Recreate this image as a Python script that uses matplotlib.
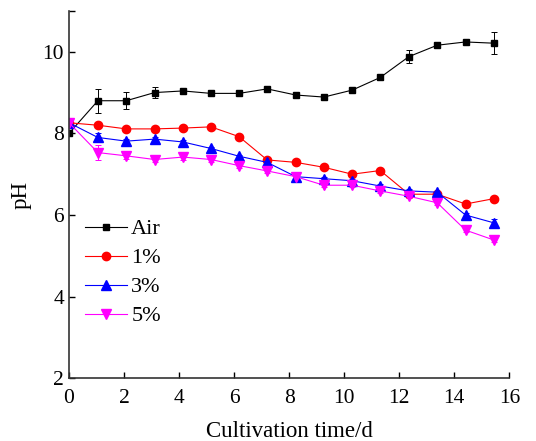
import numpy as np
import matplotlib.pyplot as plt

plt.rcParams['font.family'] = ['Liberation Serif', 'DejaVu Serif']

# days as they sit on the plot
days = [0, 1.05, 2.08, 3.11, 4.14, 5.16, 6.18, 7.2, 8.24, 9.26, 10.29, 11.31, 12.35, 13.38, 14.41, 15.43]

ph_air = [8.0, 8.80, 8.80, 9.00, 9.04, 8.98, 8.98, 9.09, 8.94, 8.89, 9.06, 9.37, 9.88, 10.16, 10.24, 10.21]
err_air = [0.05, 0.29, 0.21, 0.13, 0.05, 0.04, 0.04, 0.05, 0.04, 0.04, 0.04, 0.05, 0.16, 0.05, 0.03, 0.27]

ph_1 = [8.26, 8.20, 8.11, 8.11, 8.13, 8.16, 7.92, 7.35, 7.29, 7.17, 7.00, 7.09, 6.51, 6.51, 6.27, 6.40]
err_1 = [0.03] * 16

ph_3 = [8.26, 7.90, 7.81, 7.86, 7.79, 7.63, 7.44, 7.29, 6.94, 6.89, 6.84, 6.71, 6.59, 6.56, 6.00, 5.81]
err_3 = [0.05, 0.10, 0.05, 0.06, 0.05, 0.04, 0.04, 0.05, 0.08, 0.04, 0.04, 0.04, 0.04, 0.04, 0.06, 0.10]

ph_5 = [8.26, 7.53, 7.45, 7.36, 7.42, 7.36, 7.21, 7.08, 6.94, 6.73, 6.73, 6.59, 6.46, 6.30, 5.63, 5.39]
err_5 = [0.05, 0.19, 0.08, 0.05, 0.08, 0.05, 0.05, 0.05, 0.08, 0.05, 0.05, 0.05, 0.05, 0.05, 0.05, 0.05]

fig = plt.figure(figsize=(5.36, 4.41), dpi=100)
ax = fig.add_axes([0.1287, 0.1422, 0.8215, 0.8330])

series = [
    (ph_air, err_air, 'Air', 'black', 's', 5.0),
    (ph_1, err_1, '1%', 'red', 'o', 6.0),
    (ph_3, err_3, '3%', 'blue', '^', 6.5),
    (ph_5, err_5, '5%', 'magenta', 'v', 6.5),
]
handles = []
for vals, err, lab, col, mk, ms in series:
    eb = ax.errorbar(days, vals, yerr=err, color=col, marker=mk, markersize=ms,
                     linewidth=0.8, elinewidth=0.7, capsize=2.5, capthick=0.7,
                     ecolor=col, label=lab)
    handles.append(eb[0])

ax.set_xlim(0, 16)
ax.set_ylim(2, 11)
ax.set_xticks(np.arange(0, 17, 2))
ax.set_yticks([2, 4, 6, 8, 10, 11])
ax.set_yticklabels(['2', '4', '6', '8', '10', ''])
ax.tick_params(direction='in', length=4, width=1, labelsize=15.5, colors='black')
ax.tick_params(axis='x', pad=8)
ax.spines['top'].set_visible(False)
ax.spines['right'].set_visible(False)
for s in ['left', 'bottom']:
    ax.spines[s].set_linewidth(1.2)
    ax.spines[s].set_color('#333333')

ax.set_xlabel('Cultivation time/d', fontsize=16.5, labelpad=9)
ax.set_ylabel('pH', fontsize=16.5, labelpad=8)

ax.legend(handles=handles, labels=['Air', '1%', '3%', '5%'],
          loc='lower left', bbox_to_anchor=(0.0, 0.099), frameon=False,
          fontsize=16, handlelength=1.9, handletextpad=0.2, labelspacing=0.38,
          borderaxespad=0.3)

fig.savefig('out.png', dpi=100)
